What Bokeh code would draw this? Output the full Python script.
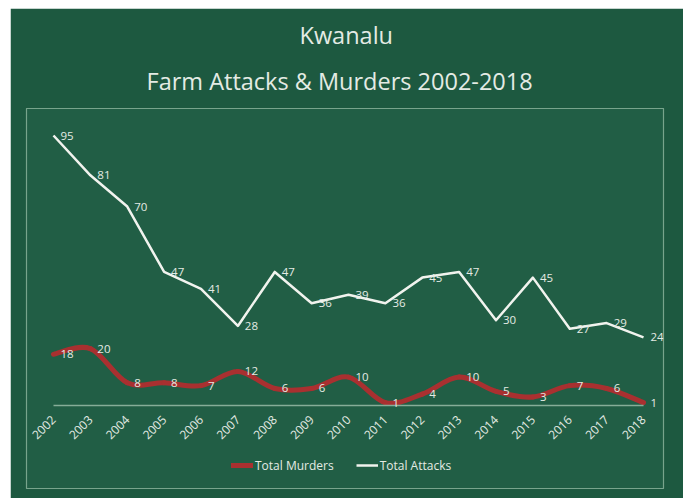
import math
from bokeh.plotting import figure
from bokeh.layouts import column, row
from bokeh.models import (ColumnDataSource, LabelSet, Title, Legend, LegendItem,
                          FixedTicker, Range1d, Spacer)
from bokeh.core.properties import value
from bokeh.embed import file_html
from bokeh.resources import INLINE

# ---- data -------------------------------------------------------------
years = [2002, 2003, 2004, 2005, 2006, 2007, 2008, 2009, 2010,
         2011, 2012, 2013, 2014, 2015, 2016, 2017, 2018]
attacks = [95, 81, 70, 47, 41, 28, 47, 36, 39, 36, 45, 47, 30, 45, 27, 29, 24]
murders = [18, 20, 8, 8, 7, 12, 6, 6, 10, 1, 4, 10, 5, 3, 7, 6, 1]
title_line1 = "Kwanalu"
title_line2 = "Farm Attacks & Murders 2002-2018"
series_names = ["Total Murders", "Total Attacks"]

# ---- styles -----------------------------------------------------------
OUTER = "#1d5940"
INNER = "#215e45"
BORDER = "#78a48c"
TEXT = "#e4ebe4"
AXIS = "#86ad98"
RED = "#a93030"
WHITE = "#f1f3ee"
FONT = "Open Sans"

src = ColumnDataSource(dict(
    year=years, attacks=attacks, murders=murders,
    a_lbl=[str(v) for v in attacks], m_lbl=[str(v) for v in murders]))

# smoothed murders line: cubic Bezier segments through every data point
n = len(years)
seg = dict(x0=[], y0=[], x1=[], y1=[], cx0=[], cy0=[], cx1=[], cy1=[])
for i in range(n - 1):
    a = max(i - 1, 0)
    b = min(i + 2, n - 1)
    seg["x0"].append(years[i]); seg["y0"].append(murders[i])
    seg["x1"].append(years[i + 1]); seg["y1"].append(murders[i + 1])
    seg["cx0"].append(years[i] + (years[i + 1] - years[a]) / 6)
    seg["cy0"].append(murders[i] + (murders[i + 1] - murders[a]) / 6)
    seg["cx1"].append(years[i + 1] - (years[b] - years[i]) / 6)
    seg["cy1"].append(murders[i + 1] - (murders[b] - murders[i]) / 6)
seg_src = ColumnDataSource(seg)

p = figure(width=673, height=490, output_backend="svg", toolbar_location=None,
           x_range=Range1d(years[0] - 0.732, years[-1] + 0.542),
           y_range=Range1d(-29.2, 104.5), y_axis_location=None,
           min_border_left=16, min_border_right=20,
           min_border_top=100, min_border_bottom=10,
           background_fill_color=INNER, border_fill_color=OUTER,
           outline_line_color=BORDER, outline_line_width=1.2)
p.xgrid.visible = False
p.ygrid.visible = False

r_m = p.bezier(x0="x0", y0="y0", x1="x1", y1="y1", cx0="cx0", cy0="cy0",
               cx1="cx1", cy1="cy1", source=seg_src, line_color=RED,
               line_width=5, line_cap="round")
r_a = p.line("year", "attacks", source=src, line_color=WHITE, line_width=2.5,
             line_join="round")

for col, lbl in (("attacks", "a_lbl"), ("murders", "m_lbl")):
    p.add_layout(LabelSet(x="year", y=col, text=lbl, source=src, x_offset=7,
                          text_align="left", text_baseline="middle",
                          text_font=value(FONT), text_font_size="11.5px",
                          text_color=TEXT))

ax = p.xaxis[0]
ax.fixed_location = 0
ax.ticker = FixedTicker(ticks=years)
ax.bounds = (years[0], years[-1])
ax.major_label_orientation = math.pi / 4
ax.major_tick_line_color = None
ax.minor_tick_line_color = None
ax.axis_line_color = AXIS
ax.axis_line_width = 1.5
ax.major_label_text_color = TEXT
ax.major_label_text_font = FONT
ax.major_label_text_font_size = "12px"
ax.major_label_standoff = 6

legend = Legend(items=[LegendItem(label=series_names[0], renderers=[r_m]),
                       LegendItem(label=series_names[1], renderers=[r_a])],
                orientation="horizontal", location=(205, 13),
                background_fill_alpha=0, border_line_color=None,
                label_text_color=TEXT, label_text_font=FONT,
                label_text_font_size="12px", glyph_width=22, label_standoff=2,
                spacing=22, padding=0, margin=0)
p.add_layout(legend)

for t, so, off in ((title_line2, 24, 120), (title_line1, 0, 273)):
    p.add_layout(Title(text=t, align="left", offset=off, text_font=FONT,
                       text_font_size="23.5px", text_font_style="normal",
                       text_color=TEXT, standoff=so), "above")

page = column(Spacer(height=8), row(Spacer(width=10), p))
open("out.html", "w").write(file_html(page, INLINE))
